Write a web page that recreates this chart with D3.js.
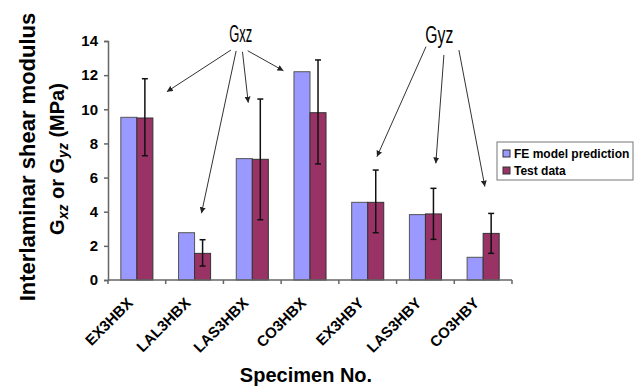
<!DOCTYPE html>
<html>
<head>
<meta charset="utf-8">
<script src="https://cdn.jsdelivr.net/npm/d3@7"></script>
<style>
  body { margin: 0; background: #fff; }
  svg text { font-family: "Liberation Sans", Arial, sans-serif; font-weight: bold; fill: #000; }
</style>
</head>
<body>
<div id="chart"></div>
<script>
// specimens and values (MPa)
var specimens = ['EX3HBX', 'LAL3HBX', 'LAS3HBX', 'CO3HBX', 'EX3HBY', 'LAS3HBY', 'CO3HBY'];
var feValues = [9.53, 2.77, 7.11, 12.2, 4.55, 3.83, 1.33];
var testValues = [9.49, 1.56, 7.07, 9.8, 4.55, 3.87, 2.73];
var errLow = [7.28, 0.82, 3.53, 6.8, 2.77, 2.38, 1.56];
var errHigh = [11.79, 2.36, 10.6, 12.89, 6.44, 5.37, 3.9];
var yTicks = [0, 2, 4, 6, 8, 10, 12, 14];
var seriesNames = ['FE model prediction', 'Test data'];
var seriesColors = ['#9999ff', '#993366'];

// annotation labels and arrows, in (category index, value) units
var gxzLabel = { text: 'Gxz', i: 2.30, v: 13.94 };
var gyzLabel = { text: 'Gyz', i: 5.74, v: 13.88 };
var arrows = [
    [2.13, 13.47, 1.02, 11.03],
    [2.22, 13.42, 1.62, 3.91],
    [2.33, 13.37, 2.43, 10.39],
    [2.42, 13.43, 3.04, 12.26],
    [5.51, 13.67, 4.66, 7.22],
    [5.82, 13.18, 5.68, 6.83],
    [6.08, 13.47, 6.53, 5.47]
];

var width = 640, height = 389;
var margin = { top: 41, left: 108, right: 128, bottom: 109 };
var plotW = width - margin.left - margin.right,
    plotH = height - margin.top - margin.bottom;

var svg = d3.select('#chart').append('svg')
    .attr('width', width)
    .attr('height', height);

var defs = svg.append('defs');
defs.append('marker')
    .attr('id', 'head')
    .attr('viewBox', '0 0 10 10')
    .attr('refX', 10).attr('refY', 5)
    .attr('markerWidth', 6).attr('markerHeight', 6)
    .attr('markerUnits', 'userSpaceOnUse')
    .attr('orient', 'auto')
    .append('path')
    .attr('d', 'M0,0L10,5L0,10z')
    .attr('fill', '#222');

var g = svg.append('g')
    .attr('transform', 'translate(' + margin.left + ',' + margin.top + ')');

var x = d3.scaleBand().domain(specimens).range([0, plotW]);
var x1 = d3.scaleBand().domain([0, 1]).range([0, x.bandwidth()])
    .paddingInner(0).paddingOuter(0.8);
var xi = d3.scaleLinear().domain([0, specimens.length]).range([0, plotW]);
var y = d3.scaleLinear().domain([0, 14]).range([plotH, 0]);

// bars
var groups = g.selectAll('.grp')
    .data(specimens)
    .enter().append('g')
    .attr('class', 'grp')
    .attr('transform', function(d) { return 'translate(' + x(d) + ',0)'; });

groups.append('rect')
    .attr('x', x1(0))
    .attr('y', function(d, i) { return y(feValues[i]); })
    .attr('width', x1.bandwidth())
    .attr('height', function(d, i) { return plotH - y(feValues[i]); })
    .attr('fill', seriesColors[0])
    .attr('stroke', '#555')
    .attr('stroke-width', 1);

groups.append('rect')
    .attr('x', x1(1))
    .attr('y', function(d, i) { return y(testValues[i]); })
    .attr('width', x1.bandwidth())
    .attr('height', function(d, i) { return plotH - y(testValues[i]); })
    .attr('fill', seriesColors[1])
    .attr('stroke', '#333')
    .attr('stroke-width', 1);

// error bars
var ex = x1(1) + x1.bandwidth() / 2;
groups.append('line')
    .attr('x1', ex).attr('x2', ex)
    .attr('y1', function(d, i) { return y(errLow[i]); })
    .attr('y2', function(d, i) { return y(errHigh[i]); })
    .attr('stroke', '#111').attr('stroke-width', 1.5);
groups.append('line')
    .attr('x1', ex - 3).attr('x2', ex + 3)
    .attr('y1', function(d, i) { return y(errLow[i]); })
    .attr('y2', function(d, i) { return y(errLow[i]); })
    .attr('stroke', '#111').attr('stroke-width', 1.5);
groups.append('line')
    .attr('x1', ex - 3).attr('x2', ex + 3)
    .attr('y1', function(d, i) { return y(errHigh[i]); })
    .attr('y2', function(d, i) { return y(errHigh[i]); })
    .attr('stroke', '#111').attr('stroke-width', 1.5);

// axes
var yAxis = d3.axisLeft(y).tickValues(yTicks).tickSize(4).tickPadding(6);
var gy = g.append('g').call(yAxis);
gy.select('.domain').attr('stroke', '#666').attr('stroke-width', 1.5);
gy.selectAll('.tick line').attr('stroke', '#666').attr('stroke-width', 1.5);
gy.selectAll('.tick text').style('font-size', '15px');

var gx = g.append('g').attr('transform', 'translate(0,' + plotH + ')');
gx.append('line')
    .attr('x1', 0).attr('x2', plotW).attr('y1', 0).attr('y2', 0)
    .attr('stroke', '#666').attr('stroke-width', 1.5);
gx.selectAll('.xt')
    .data(d3.range(specimens.length + 1))
    .enter().append('line')
    .attr('x1', function(d) { return xi(d); })
    .attr('x2', function(d) { return xi(d); })
    .attr('y1', 0).attr('y2', 4)
    .attr('stroke', '#666').attr('stroke-width', 1.5);
gx.selectAll('.xl')
    .data(specimens)
    .enter().append('text')
    .attr('transform', function(d) {
        return 'translate(' + (x(d) + x.bandwidth() / 2 - 3) + ',24) rotate(-45)';
    })
    .style('text-anchor', 'end')
    .style('font-size', '15px')
    .text(function(d) { return d; });

// arrows
g.selectAll('.arrow')
    .data(arrows)
    .enter().append('line')
    .attr('x1', function(d) { return xi(d[0]); })
    .attr('y1', function(d) { return y(d[1]); })
    .attr('x2', function(d) { return xi(d[2]); })
    .attr('y2', function(d) { return y(d[3]); })
    .attr('stroke', '#333')
    .attr('stroke-width', 1)
    .attr('marker-end', 'url(#head)');

[gxzLabel, gyzLabel].forEach(function(l) {
    g.append('text')
        .attr('x', xi(l.i))
        .attr('y', y(l.v))
        .style('text-anchor', 'middle')
        .style('font-weight', 'normal')
        .style('font-size', '23px')
        .attr('textLength', l.text == 'Gxz' ? 23 : 28)
        .attr('lengthAdjust', 'spacingAndGlyphs')
        .text(l.text);
});

// legend
var legend = svg.append('g').attr('transform', 'translate(497,142)');
legend.append('rect')
    .attr('width', 136).attr('height', 38)
    .attr('fill', '#fff').attr('stroke', '#777').attr('stroke-width', 1);
seriesNames.forEach(function(name, i) {
    legend.append('rect')
        .attr('x', 6).attr('y', 8 + i * 17)
        .attr('width', 7).attr('height', 7)
        .attr('fill', seriesColors[i])
        .attr('stroke', '#333').attr('stroke-width', 1);
    legend.append('text')
        .attr('x', 17).attr('y', 16 + i * 17)
        .style('font-size', '12px')
        .text(name);
});

// axis titles
svg.append('text')
    .attr('transform', 'translate(35,157) rotate(-90)')
    .style('text-anchor', 'middle')
    .style('font-size', '22px')
    .text('Interlaminar shear modulus');

var t2 = svg.append('text')
    .attr('transform', 'translate(64,159) rotate(-90)')
    .style('text-anchor', 'middle')
    .style('font-size', '20px');
t2.append('tspan').text('G');
t2.append('tspan').attr('dy', 4).style('font-size', '14px').style('font-style', 'italic').text('xz');
t2.append('tspan').attr('dy', -4).text(' or G');
t2.append('tspan').attr('dy', 4).style('font-size', '14px').style('font-style', 'italic').text('yz');
t2.append('tspan').attr('dy', -4).text(' (MPa)');

svg.append('text')
    .attr('x', 306)
    .attr('y', 382)
    .style('text-anchor', 'middle')
    .style('font-size', '20px')
    .text('Specimen No.');
</script>
</body>
</html>
